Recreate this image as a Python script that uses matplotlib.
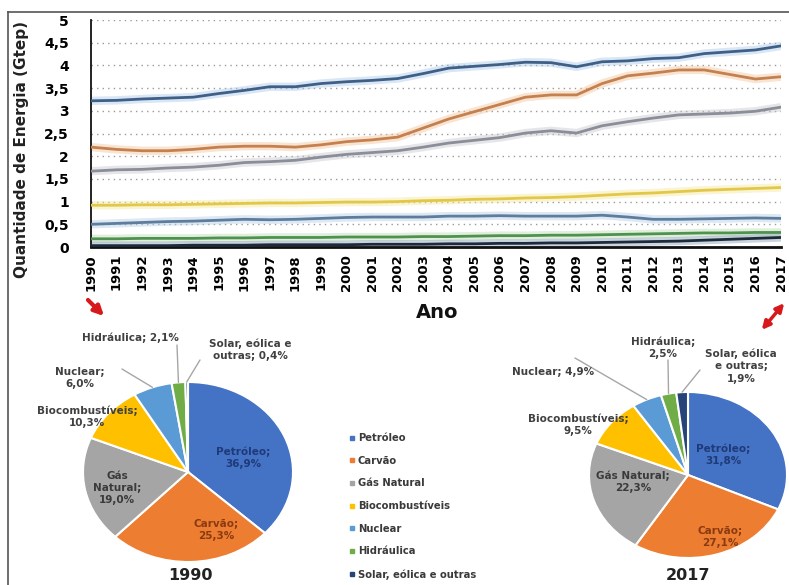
import numpy as np
import matplotlib
matplotlib.use("Agg")
import matplotlib.pyplot as plt
from matplotlib.lines import Line2D

W, H = 789, 585

anos = list(range(1990, 2018))
fontes = ["Petróleo", "Carvão", "Gás Natural", "Biocombustíveis",
          "Nuclear", "Hidráulica", "Solar, eólica e outras"]

# consumo anual por fonte (Gtep)
petroleo = [3.22, 3.23, 3.26, 3.28, 3.30, 3.38, 3.45, 3.53, 3.53, 3.60, 3.64, 3.67, 3.71, 3.82,
            3.94, 3.98, 4.02, 4.07, 4.06, 3.97, 4.08, 4.10, 4.15, 4.17, 4.26, 4.30, 4.34, 4.43]
carvao = [2.20, 2.15, 2.12, 2.12, 2.15, 2.20, 2.22, 2.22, 2.20, 2.25, 2.32, 2.36, 2.42, 2.62,
          2.82, 2.98, 3.14, 3.30, 3.35, 3.35, 3.60, 3.77, 3.83, 3.90, 3.90, 3.80, 3.70, 3.75]
gas = [1.67, 1.70, 1.71, 1.74, 1.76, 1.80, 1.86, 1.88, 1.91, 1.98, 2.04, 2.08, 2.12, 2.20,
       2.29, 2.35, 2.41, 2.51, 2.56, 2.51, 2.67, 2.76, 2.84, 2.91, 2.93, 2.95, 2.99, 3.08]
bio = [0.92, 0.92, 0.93, 0.93, 0.94, 0.95, 0.96, 0.97, 0.97, 0.98, 0.99, 0.99, 1.00, 1.02,
       1.03, 1.05, 1.06, 1.08, 1.09, 1.11, 1.14, 1.17, 1.19, 1.22, 1.25, 1.27, 1.29, 1.31]
nuclear = [0.50, 0.52, 0.54, 0.56, 0.57, 0.59, 0.61, 0.60, 0.61, 0.63, 0.65, 0.66, 0.66, 0.66,
           0.68, 0.68, 0.69, 0.68, 0.68, 0.68, 0.70, 0.66, 0.61, 0.61, 0.62, 0.63, 0.64, 0.63]
hidraulica = [0.18, 0.18, 0.19, 0.19, 0.19, 0.20, 0.20, 0.21, 0.21, 0.21, 0.22, 0.22, 0.22, 0.23,
              0.23, 0.24, 0.25, 0.25, 0.26, 0.26, 0.27, 0.28, 0.29, 0.30, 0.31, 0.31, 0.32, 0.32]
solar = [0.03, 0.03, 0.03, 0.03, 0.04, 0.04, 0.04, 0.05, 0.05, 0.05, 0.05, 0.06, 0.06, 0.06,
         0.07, 0.07, 0.08, 0.08, 0.09, 0.09, 0.10, 0.11, 0.12, 0.13, 0.15, 0.17, 0.19, 0.21]
series = [petroleo, carvao, gas, bio, nuclear, hidraulica, solar]

# participação (%) em 1990 e 2017
pct_1990 = [36.9, 25.3, 19.0, 10.3, 6.0, 2.1, 0.4]
pct_2017 = [31.8, 27.1, 22.3, 9.5, 4.9, 2.5, 1.9]

cores_pizza = ["#4472C4", "#ED7D31", "#A5A5A5", "#FFC000", "#5B9BD5", "#70AD47", "#264478"]
cores_linha = ["#3f5f86", "#c4804e", "#8a8e98", "#e2c84a", "#5e7c9c", "#4f9250", "#1c2a3c"]
halo_linha = ["#a9c8ea", "#f3c49c", "#c8c8d0", "#f6e79a", "#b2cde6", "#b8dcb0", "#8aa0b8"]


def fx(px):
    return px / W


def fy(py):
    return 1 - py / H


fig = plt.figure(figsize=(W / 100, H / 100), dpi=100)
fig.patch.set_facecolor("white")

# moldura
fig.add_artist(Line2D([fx(8), fx(8)], [fy(12), 0], color="#555555", lw=1.2))
fig.add_artist(Line2D([fx(8), 1], [fy(12), fy(12)], color="#555555", lw=1.2))

# ---- grafico de linhas ----
ax = fig.add_axes([fx(91), fy(247), fx(781) - fx(91), fy(20) - fy(247)])
for s, c, h in zip(series, cores_linha, halo_linha):
    ax.plot(anos, s, color=h, lw=6, alpha=0.45, solid_capstyle="butt", zorder=2)
    ax.plot(anos, s, color=c, lw=2, zorder=3)
ax.set_xlim(1990, 2017)
ax.set_ylim(0, 5)
ax.set_yticks(np.arange(0, 5.01, 0.5))
ax.set_yticklabels([("%g" % v).replace(".", ",") for v in np.arange(0, 5.01, 0.5)],
                   fontsize=10, fontweight="bold")
ax.set_xticks(anos)
ax.set_xticklabels([str(a) for a in anos], rotation=90, fontsize=9.5, fontweight="bold")
ax.tick_params(axis="y", length=0, pad=16)
ax.tick_params(axis="x", length=0, pad=5)
ax.grid(axis="y", color="#9a9a9a", linestyle=(0, (1, 3)), lw=1)
ax.set_axisbelow(True)
for sp in ["top", "right"]:
    ax.spines[sp].set_visible(False)
ax.spines["left"].set_color("#111111")
ax.spines["left"].set_linewidth(1.3)
ax.spines["bottom"].set_color("#111111")
ax.spines["bottom"].set_linewidth(2)

fig.text(fx(22), fy(150), "Quantidade de Energia (Gtep)", rotation=90, ha="center",
         va="center", fontsize=11, fontweight="bold", color="#222222")
fig.text(fx(437), fy(313), "Ano", ha="center", va="center", fontsize=14,
         fontweight="bold", color="#111111")

# setas vermelhas
fig.add_artist(plt.Annotation("", xy=(fx(106), fy(318)), xytext=(fx(86), fy(298)),
                              xycoords="figure fraction", textcoords="figure fraction",
                              arrowprops=dict(arrowstyle="-|>", color="#d7191c", lw=3,
                                              mutation_scale=14)))
fig.add_artist(plt.Annotation("", xy=(fx(760), fy(332)), xytext=(fx(786), fy(301)),
                              xycoords="figure fraction", textcoords="figure fraction",
                              arrowprops=dict(arrowstyle="<|-|>", color="#d7191c", lw=2.5,
                                              mutation_scale=12)))


def pizza(box, pct, rotulos_dentro, rotulos_fora, titulo, titulo_pos):
    axp = fig.add_axes(box)
    axp.pie(pct, colors=cores_pizza, startangle=90, counterclock=False,
            wedgeprops=dict(edgecolor="white", linewidth=1.5))
    axp.set_aspect("auto")
    axp.set_xlim(-1, 1)
    axp.set_ylim(-1, 1)
    angs = 90 - (np.cumsum(pct) - np.array(pct) / 2) * 3.6
    for i, (x, y, txt, cor) in rotulos_dentro.items():
        fig.text(fx(x), fy(y), txt, ha="center", va="center", fontsize=7.5,
                 fontweight="bold", color=cor, linespacing=1.3)
    for i, (x, y, txt, lx, ly) in rotulos_fora.items():
        fig.text(fx(x), fy(y), txt, ha="center", va="center", fontsize=7.5,
                 fontweight="bold", color="#404040", linespacing=1.3)
        if lx is not None:
            a = np.radians(angs[i])
            axp.annotate("", xy=(np.cos(a), np.sin(a)), xycoords="data",
                         xytext=(fx(lx), fy(ly)), textcoords="figure fraction",
                         arrowprops=dict(arrowstyle="-", color="#a6a6a6", lw=1,
                                         shrinkA=0, shrinkB=0))
    fig.text(fx(titulo_pos[0]), fy(titulo_pos[1]), titulo, ha="center", va="center",
             fontsize=11.5, fontweight="bold", color="#222222")
    return axp


pizza([fx(83), fy(562), fx(210), 180 / H], pct_1990,
      {0: (243, 458, "Petróleo;\n36,9%", "#1f3a78"),
       1: (216, 530, "Carvão;\n25,3%", "#8a3a12"),
       2: (117, 488, "Gás\nNatural;\n19,0%", "#3a3a3a")},
      {5: (130, 338, "Hidráulica; 2,1%", 177, 345),
       6: (250, 350, "Solar, eólica e\noutras; 0,4%", 200, 360),
       4: (80, 378, "Nuclear;\n6,0%", 122, 369),
       3: (87, 417, "Biocombustíveis;\n10,3%", None, None)},
      "1990", (190, 575))

pizza([fx(589), fy(558), fx(198), 166 / H], pct_2017,
      {0: (723, 455, "Petróleo;\n31,8%", "#1f3a78"),
       1: (720, 537, "Carvão;\n27,1%", "#8a3a12"),
       2: (633, 482, "Gás Natural;\n22,3%", "#3a3a3a")},
      {5: (663, 348, "Hidráulica;\n2,5%", 668, 360),
       6: (741, 366, "Solar, eólica\ne outras;\n1,9%", 700, 370),
       4: (553, 372, "Nuclear; 4,9%", 575, 358),
       3: (578, 425, "Biocombustíveis;\n9,5%", None, None)},
      "2017", (688, 575))

# legenda central
handles = [Line2D([], [], marker="s", linestyle="none", markersize=3.5,
                  markerfacecolor=c, markeredgecolor=c) for c in cores_pizza]
fig.legend(handles, fontes, loc="upper left", bbox_to_anchor=(fx(344), fy(428)),
           frameon=False, labelspacing=1.27, handlelength=0.6,
           handletextpad=0.3, borderpad=0, labelcolor="#3a3a3a",
           prop=dict(weight="bold", size=7.2))

fig.savefig("out.png", dpi=100, facecolor="white")
